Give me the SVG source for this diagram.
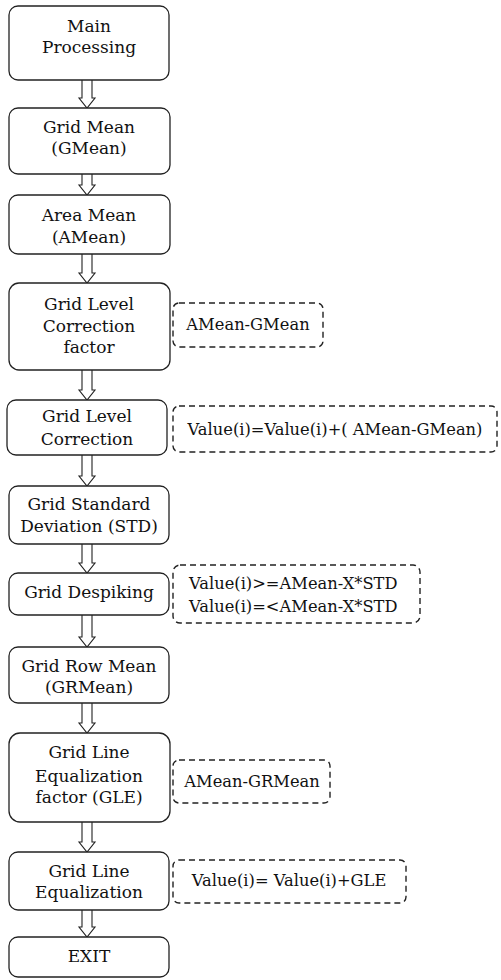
<svg xmlns="http://www.w3.org/2000/svg" width="501" height="980" viewBox="0 0 501 980">
<style>
.box{fill:#fff;stroke:#222;stroke-width:1.3}
.dash{fill:none;stroke:#222;stroke-width:1.4;stroke-dasharray:6 4}
.arr{fill:#fff;stroke:#222;stroke-width:1.1;stroke-linejoin:miter}
.c{text-anchor:middle}
.s{font-size:16.3px}
</style>
<rect width="501" height="980" fill="#fff"/>
<g id="connectors">
<path class="arr" d="M82,80 V98 H79 L87,108 L95,98 H92 V80"/>
<path class="arr" d="M82,174 V185 H79 L87,195 L95,185 H92 V174"/>
<path class="arr" d="M82,254 V273 H79 L87,283 L95,273 H92 V254"/>
<path class="arr" d="M82,370 V390 H79 L87,400 L95,390 H92 V370"/>
<path class="arr" d="M82,455 V476 H79 L87,486 L95,476 H92 V455"/>
<path class="arr" d="M82,544 V563 H79 L87,573 L95,563 H92 V544"/>
<path class="arr" d="M82,615 V637 H79 L87,647 L95,637 H92 V615"/>
<path class="arr" d="M82,703 V723 H79 L87,733 L95,723 H92 V703"/>
<path class="arr" d="M82,822 V842 H79 L87,852 L95,842 H92 V822"/>
<path class="arr" d="M82,910 V927 H79 L87,937 L95,927 H92 V910"/>
</g>
<g font-family="DejaVu Serif, serif" font-size="17" fill="#111">
<g id="n1"><rect class="box" x="9" y="6" width="160" height="74" rx="9"/><text class="c" x="89" y="32">Main</text><text class="c" x="89" y="53">Processing</text></g>
<g id="n2"><rect class="box" x="9" y="108" width="161" height="66" rx="9"/><text class="c" x="89" y="133">Grid Mean</text><text class="c" x="89" y="154">(GMean)</text></g>
<g id="n3"><rect class="box" x="9" y="195" width="161" height="59" rx="9"/><text class="c" x="89" y="221">Area Mean</text><text class="c" x="89" y="243">(AMean)</text></g>
<g id="n4"><rect class="box" x="9" y="283" width="161" height="87" rx="10"/><text class="c" x="89" y="310">Grid Level</text><text class="c" x="89" y="332">Correction</text><text class="c" x="89" y="353">factor</text></g>
<g id="n5"><rect class="box" x="7" y="400" width="160" height="55" rx="9"/><text class="c" x="87" y="422">Grid Level</text><text class="c" x="87" y="445">Correction</text></g>
<g id="n6"><rect class="box" x="9" y="486" width="160" height="58" rx="9"/><text class="c" x="89" y="510">Grid Standard</text><text class="c" x="89" y="532">Deviation (STD)</text></g>
<g id="n7"><rect class="box" x="9" y="573" width="160" height="42" rx="9"/><text class="c" x="89" y="598">Grid Despiking</text></g>
<g id="n8"><rect class="box" x="9" y="647" width="160" height="56" rx="9"/><text class="c" x="89" y="672">Grid Row Mean</text><text class="c" x="89" y="693">(GRMean)</text></g>
<g id="n9"><rect class="box" x="9" y="733" width="161" height="89" rx="11"/><text class="c" x="89" y="758">Grid Line</text><text class="c" x="89" y="782">Equalization</text><text class="c" x="89" y="803">factor (GLE)</text></g>
<g id="n10"><rect class="box" x="9" y="852" width="160" height="58" rx="9"/><text class="c" x="89" y="877">Grid Line</text><text class="c" x="89" y="898">Equalization</text></g>
<g id="n11"><rect class="box" x="9" y="937" width="160" height="40" rx="9"/><text class="c" x="89" y="962">EXIT</text></g>
<g id="d1"><rect class="dash" x="173" y="303" width="150" height="44" rx="6"/><text class="c s" x="248" y="330">AMean-GMean</text></g>
<g id="d2"><rect class="dash" x="173" y="406" width="324" height="46" rx="6"/><text class="c s" x="335" y="435">Value(i)=Value(i)+( AMean-GMean)</text></g>
<g id="d3"><rect class="dash" x="173" y="565" width="247" height="58" rx="7"/><text class="s" x="189" y="589">Value(i)&gt;=AMean-X*STD</text><text class="s" x="189" y="612">Value(i)=&lt;AMean-X*STD</text></g>
<g id="d4"><rect class="dash" x="173" y="760" width="157" height="43" rx="6"/><text class="c s" x="252" y="787">AMean-GRMean</text></g>
<g id="d5"><rect class="dash" x="173" y="860" width="233" height="43" rx="6"/><text class="c s" x="289" y="886">Value(i)= Value(i)+GLE</text></g>
</g>
</svg>
